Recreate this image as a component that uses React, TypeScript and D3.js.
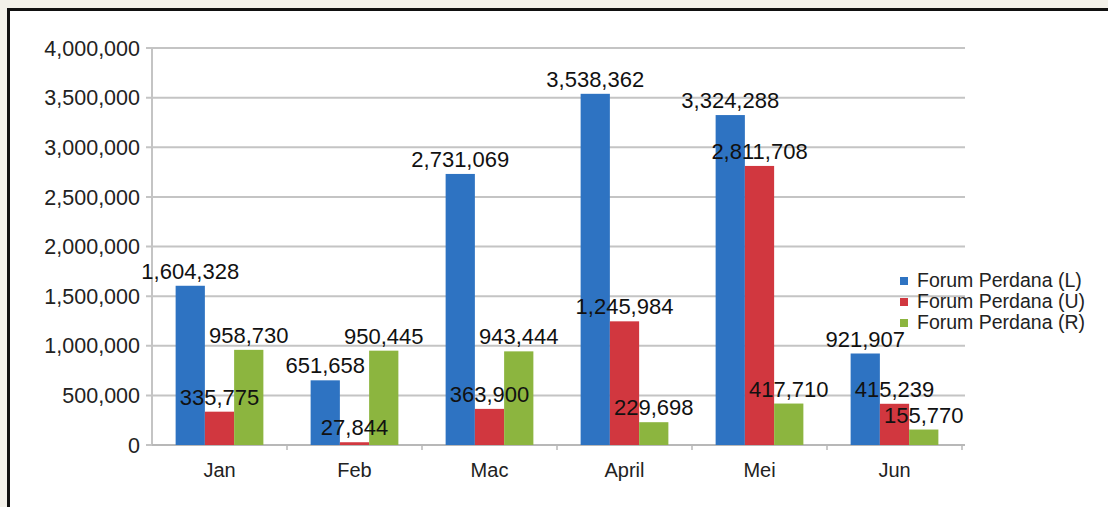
import React from "react";
import * as d3 from "d3";

const months = ["Jan", "Feb", "Mac", "April", "Mei", "Jun"];
const seriesNames = ["Forum Perdana (L)", "Forum Perdana (U)", "Forum Perdana (R)"];
const seriesColors = ["#2e73c2", "#d1373f", "#8cb53f"];
const valuesL = [1604328, 651658, 2731069, 3538362, 3324288, 921907];
const valuesU = [335775, 27844, 363900, 1245984, 2811708, 415239];
const valuesR = [958730, 950445, 943444, 229698, 417710, 155770];
const yTicks = [0, 500000, 1000000, 1500000, 2000000, 2500000, 3000000, 3500000, 4000000];

const W = 1108;
const H = 507;
const FONT = "'Liberation Sans', Arial, sans-serif";

export default function App() {
  const series = [valuesL, valuesU, valuesR];
  const left = 152;
  const right = 962;
  const top = 48;
  const bottom = 445;
  const x = d3.scaleBand<string>().domain(months).range([left, right]).paddingInner(0.35).paddingOuter(0.175);
  const x0 = d3.scaleBand<string>().domain(months).range([left, right]).padding(0);
  const xs = d3.scaleBand<number>().domain([0, 1, 2]).range([0, x.bandwidth()]);
  const y = d3.scaleLinear().domain([0, 4000000]).range([bottom, top]);
  const fmt = d3.format(",");

  return (
    <svg width={W} height={H} style={{ position: "absolute", left: 0, top: 0 }} fontFamily={FONT}>
      <rect x={0} y={0} width={W} height={H} fill="#f3f1ea" />
      <rect x={10} y={11} width={W - 10} height={H - 11} fill="#ffffff" />
      <line x1={8.5} y1={9.5} x2={8.5} y2={H} stroke="#111" strokeWidth={3} />
      <line x1={7} y1={9.5} x2={W} y2={9.5} stroke="#111" strokeWidth={3} />

      {yTicks.map((t) => (
        <g key={t}>
          <line x1={146} x2={965} y1={y(t)} y2={y(t)} stroke="#c4c4c4" strokeWidth={2} />
          <text x={140} y={y(t)} dy="0.36em" textAnchor="end" fontSize={21.5} fill="#222">
            {fmt(t)}
          </text>
        </g>
      ))}
      <line x1={left} x2={left} y1={top - 1} y2={bottom} stroke="#c4c4c4" strokeWidth={2} />
      <line x1={left} x2={965} y1={bottom} y2={bottom} stroke="#b8b8b8" strokeWidth={2} />
      {months.map((m) => (
        <line key={"t" + m} x1={(x0(m) as number) + x0.bandwidth()} x2={(x0(m) as number) + x0.bandwidth()} y1={bottom} y2={bottom + 5} stroke="#b8b8b8" strokeWidth={1.5} />
      ))}

      {series.map((vals, si) => (
        <g key={"s" + si}>
          {vals.map((v, i) => (
            <rect
              key={i}
              x={(x(months[i]) as number) + (xs(si) as number)}
              y={y(v)}
              width={xs.bandwidth()}
              height={bottom - y(v)}
              fill={seriesColors[si]}
            />
          ))}
        </g>
      ))}

      {series.map((vals, si) => (
        <g key={"l" + si}>
          {vals.map((v, i) => (
            <text
              key={i}
              x={(x(months[i]) as number) + (xs(si) as number) + xs.bandwidth() / 2}
              y={y(v) - 7}
              textAnchor="middle"
              fontSize={22}
              fill="#111"
            >
              {fmt(v)}
            </text>
          ))}
        </g>
      ))}

      {months.map((m) => (
        <text key={"x" + m} x={(x0(m) as number) + x0.bandwidth() / 2} y={477} textAnchor="middle" fontSize={20} fill="#222">
          {m}
        </text>
      ))}

      {seriesNames.map((n, i) => (
        <g key={"lg" + i}>
          <rect x={900} y={277 + i * 21} width={8} height={8} fill={seriesColors[i]} />
          <text x={917} y={287 + i * 21} fontSize={19.5} fill="#222">
            {n}
          </text>
        </g>
      ))}
    </svg>
  );
}
